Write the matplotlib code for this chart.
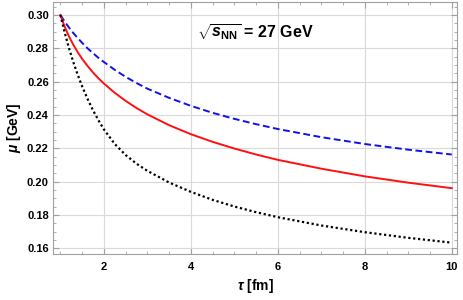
import matplotlib
matplotlib.use("Agg")
import matplotlib.pyplot as plt
from matplotlib.ticker import MultipleLocator, FormatStrFormatter

plt.rcParams['font.family'] = ['Liberation Sans', 'DejaVu Sans']
plt.rcParams['font.weight'] = 'bold'
plt.rcParams['mathtext.fontset'] = 'custom'
plt.rcParams['mathtext.rm'] = 'Liberation Sans:bold'
plt.rcParams['mathtext.it'] = 'Liberation Sans:bold:italic'
plt.rcParams['mathtext.bf'] = 'Liberation Sans:bold'

# values (smoothed by eye)
tau = [1.0, 1.1, 1.2, 1.3, 1.4, 1.5, 1.625, 1.75, 1.875, 2.0,
       2.25, 2.5, 2.75, 3.0, 3.5, 4.0, 4.5, 5.0, 5.5, 6.0, 7.0, 8.0, 9.0, 10.0]
mu_blue = [0.3000, 0.2960, 0.2924, 0.2891, 0.2861, 0.2833, 0.2800, 0.2771, 0.2743, 0.2718,
           0.2671, 0.2629, 0.2592, 0.2558, 0.2503, 0.2455, 0.2413, 0.2377, 0.2345, 0.2316,
           0.2267, 0.2226, 0.2192, 0.2163]
mu_red = [0.3000, 0.2929, 0.2870, 0.2820, 0.2776, 0.2737, 0.2694, 0.2655, 0.2620, 0.2589,
          0.2533, 0.2485, 0.2442, 0.2404, 0.2339, 0.2285, 0.2239, 0.2199, 0.2163, 0.2131,
          0.2078, 0.2032, 0.1994, 0.1961]
mu_black = [0.3000, 0.2893, 0.2799, 0.2715, 0.2640, 0.2572, 0.2496, 0.2428, 0.2368, 0.2314,
            0.2226, 0.2160, 0.2108, 0.2065, 0.1995, 0.1939, 0.1891, 0.1851, 0.1817, 0.1787,
            0.1737, 0.1697, 0.1663, 0.1634]

fig = plt.figure(figsize=(4.63, 3.0), dpi=100)
ax = fig.add_axes([0.1145, 0.1533, 0.8725, 0.84])

ax.plot(tau, mu_blue, color='#1010ee', lw=1.4, ls=(0, (3.5, 1.8)))
ax.plot(tau, mu_red, color='#ff1010', lw=1.4, ls='-')
ax.plot(tau, mu_black, color='black', lw=1.6, ls=(0, (1, 1.2)))

ax.set_xlim(0.83, 10.12)
ax.set_ylim(0.1566, 0.3078)
ax.xaxis.set_major_locator(MultipleLocator(2))
ax.xaxis.set_minor_locator(MultipleLocator(0.5))
ax.yaxis.set_major_locator(MultipleLocator(0.02))
ax.yaxis.set_minor_locator(MultipleLocator(0.005))
ax.yaxis.set_major_formatter(FormatStrFormatter('%.2f'))

ax.grid(True, which='major', color='#d9d9d9', lw=0.8)
ax.set_axisbelow(True)
for s in ax.spines.values():
    s.set_color('#a0a0a0')
    s.set_linewidth(0.8)
ax.tick_params(which='both', direction='in', top=True, right=True,
               color='#a0a0a0', labelsize=8, pad=3)
ax.tick_params(which='major', length=4)
ax.tick_params(which='minor', length=2)
ax.tick_params(axis='x', pad=6)

ax.set_xlabel(r'$\tau$ [fm]', fontsize=10, fontweight='bold', labelpad=3)
ax.set_ylabel(r'$\mu$ [GeV]', fontsize=10, fontweight='bold', labelpad=3)

ax.text(0.5, 0.88, r'$\sqrt{s_{\rm NN}}$ = 27 GeV', transform=ax.transAxes,
        ha='center', va='center', fontsize=11.5, fontweight='bold')

fig.savefig('out.png', dpi=100)
